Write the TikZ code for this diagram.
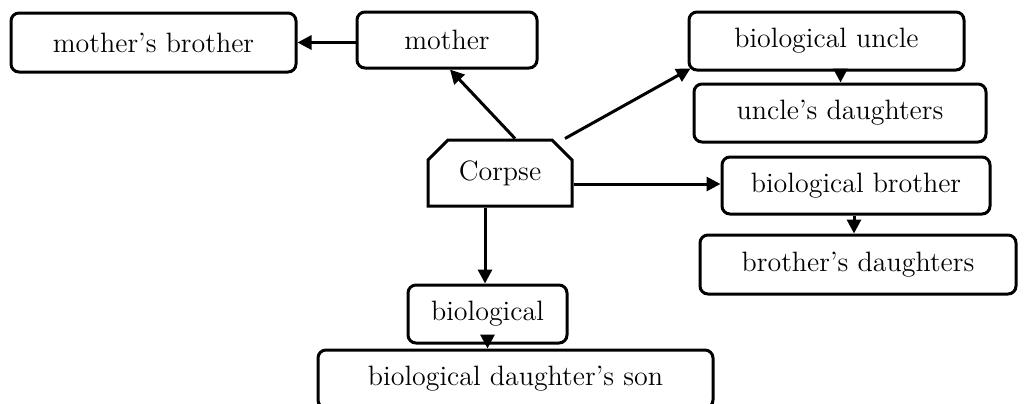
\documentclass[tikz,border=0pt]{standalone}
\usetikzlibrary{shapes.misc,arrows.meta,calc}
\begin{document}
\begin{tikzpicture}[x=0.5pt,y=-0.5pt,
  box/.style={draw,line width=1.5pt,rounded corners=4pt,inner sep=0pt,font=\fontsize{14}{17}\selectfont},
  arr/.style={line width=1.5pt,-{Triangle[length=7pt,width=7pt]}}]
\clip (0,0) rectangle (1030,403);
\useasboundingbox (0,0) rectangle (1030,403);
\node[box,minimum width=142.5pt,minimum height=29.5pt] (mb) at (153.5,42.5) {mother's brother};
\node[box,minimum width=90pt,minimum height=28pt] (mo) at (447,40) {mother};
\node[box,minimum width=137.5pt,minimum height=29pt] (un) at (826.5,41) {biological uncle};
\node[box,minimum width=146pt,minimum height=29pt] (ud) at (840,113) {uncle's daughters};
\node[draw,line width=1.5pt,chamfered rectangle,chamfered rectangle corners={north west,north east},chamfered rectangle xsep=5pt,chamfered rectangle ysep=5pt,inner sep=0pt,minimum width=72pt,minimum height=33pt,font=\fontsize{14}{17}\selectfont] (co) at (500,173) {Corpse};
\node[box,minimum width=134pt,minimum height=28.5pt] (bb) at (856,185.5) {biological brother};
\node[box,minimum width=158pt,minimum height=29.5pt] (bd) at (858,264.5) {brother's daughters};
\node[box,minimum width=79.5pt,minimum height=29pt] (bi) at (487.5,314) {biological};
\node[box,minimum width=197.5pt,minimum height=29pt] (bs) at (515.5,379) {biological daughter's son};
\draw[arr] (mo.west |- mb.east) -- (mb.east);
\draw[arr] ([xshift=7.5pt]co.north) -- ([xshift=1.5pt]mo.south);
\draw[arr] ([xshift=32.5pt]co.north) -- ([xshift=1.5pt,yshift=1.5pt]un.south west);
\draw[arr] ([xshift=7pt]un.south) -- ([xshift=7pt]un.south |- ud.north);
\draw[arr] ([yshift=-5.5pt]co.east) -- ([yshift=-5.5pt]co.east -| bb.west);
\draw[arr] ([xshift=-1pt]bb.south) -- ([xshift=-1pt]bb.south |- bd.north);
\draw[arr] ([xshift=-7.5pt]co.south) -- ([xshift=-7.5pt]co.south |- bi.north);
\draw[arr] (bi.south) -- (bi.south |- bs.north);
\end{tikzpicture}
\end{document}
